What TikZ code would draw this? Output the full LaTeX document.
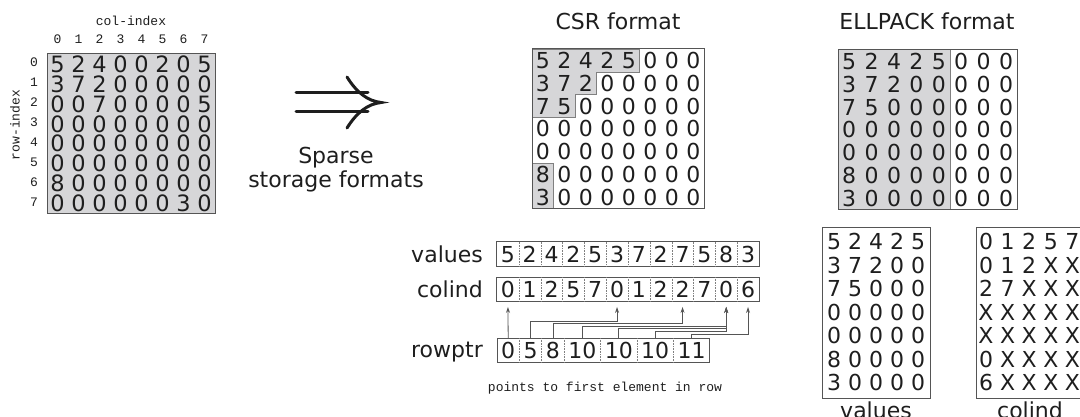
\documentclass[tikz,border=0pt]{standalone}
\usepackage{fontspec}
\setmainfont{DejaVu Sans}
\setmonofont{Liberation Mono}
\usetikzlibrary{positioning,calc,arrows.meta}

\definecolor{cellgray}{RGB}{214,214,216}
\definecolor{rulegray}{RGB}{85,85,85}
\definecolor{ink}{RGB}{30,30,30}

\tikzset{
  digit/.style={inner sep=0pt, text height=16pt, text depth=0pt, text=ink,
    font=\fontsize{22}{22}\selectfont},
  bigdigit/.style={digit, text height=16pt, font=\fontsize{22.5}{22.5}\selectfont},
  index/.style={inner sep=0pt, text=ink, font=\ttfamily\fontsize{13}{13}\selectfont},
  label/.style={inner sep=0pt, text=ink, font=\fontsize{22}{24}\selectfont},
  frame/.style={draw=rulegray, line width=1pt},
  stair/.style={draw=gray, line width=0.6pt},
  arrcell/.style={digit, minimum width=21.8pt, minimum height=24.5pt, inner xsep=4pt},
  sep/.style={draw=gray, densely dotted, line width=0.6pt},
  ptr/.style={draw=rulegray, line width=0.8pt, -{Stealth[length=6pt,width=4pt]}, shorten >=5pt},
}

\begin{document}
\begin{tikzpicture}[x=1pt, y=-1pt]
  \useasboundingbox (0,0) rectangle (1080,417);

  % dense matrix
  \fill[cellgray] (47,54) rectangle (215,214);
  \draw[frame] (47,54) rectangle (215,214);
  \foreach \row [count=\i from 0] in {{5,2,4,0,0,2,0,5},{3,7,2,0,0,0,0,0},{0,0,7,0,0,0,0,5},
      {0,0,0,0,0,0,0,0},{0,0,0,0,0,0,0,0},{0,0,0,0,0,0,0,0},{8,0,0,0,0,0,0,0},{0,0,0,0,0,0,3,0}}
    \foreach \v [count=\j from 0] in \row
      \node[bigdigit] (a-\i-\j) at ({57.5+21*\j},{64.2+19.95*\i}) {\v};

  % indices
  \node[index] (colidx) at (131,21) {col-index};
  \foreach \j in {0,...,7}
    \node[index] (colnum-\j) at ({57.5+21*\j},39) {\j};
  \foreach \i in {0,...,7}
    \node[index] (rownum-\i) at (34,{62.5+19.95*\i}) {\i};
  \node[index, rotate=90] (rowidx) at (15,125) {row-index};

  % big arrow
  \draw[ink, line width=3pt, line cap=round] (296,93) -- (368,93) (296,112) -- (368,112);
  \draw[ink, line width=3pt, line cap=round] (347,77) .. controls (357,93) and (368,101) .. (381,102.5)
    .. controls (368,104) and (357,112) .. (347,128);
  \node[label, align=center] (sparse) at (336,170) {Sparse\\storage formats};

  % CSR format
  \node[label, anchor=base] (csrtitle) at (618,30) {CSR format};
  \fill[cellgray] (532,49) -- ++(5*21.5,0) -- ++(0,22.86) -- ++(-2*21.5,0) -- ++(0,22.86)
    -- ++(-21.5,0) -- ++(0,22.86) -- (532,{49+3*22.86}) -- cycle;
  \draw[stair] (532,49) -- ++(5*21.5,0) -- ++(0,22.86) -- ++(-2*21.5,0) -- ++(0,22.86)
    -- ++(-21.5,0) -- ++(0,22.86) -- (532,{49+3*22.86});
  \fill[cellgray] (532,{49+5*22.86}) rectangle (553.5,209);
  \draw[stair] (532,{49+5*22.86}) -| (553.5,209);
  \draw[frame] (532,49) rectangle (704,209);
  \foreach \row [count=\i from 0] in {{5,2,4,2,5,0,0,0},{3,7,2,0,0,0,0,0},{7,5,0,0,0,0,0,0},
      {0,0,0,0,0,0,0,0},{0,0,0,0,0,0,0,0},{8,0,0,0,0,0,0,0},{3,0,0,0,0,0,0,0}}
    \foreach \v [count=\j from 0] in \row
      \node[digit] (c-\i-\j) at ({542.75+21.5*\j},{60.4+22.86*\i}) {\v};

  % ELLPACK format
  \node[label, anchor=base] (elltitle) at (927,30) {ELLPACK format};
  \fill[cellgray] (838,50) rectangle (950,210);
  \draw[stair] (950,50) -- (950,210);
  \draw[frame] (838,50) rectangle (1017,210);
  \foreach \row [count=\i from 0] in {{5,2,4,2,5,0,0,0},{3,7,2,0,0,0,0,0},{7,5,0,0,0,0,0,0},
      {0,0,0,0,0,0,0,0},{0,0,0,0,0,0,0,0},{8,0,0,0,0,0,0,0},{3,0,0,0,0,0,0,0}}
    \foreach \v [count=\j from 0] in \row
      \node[digit] (e-\i-\j) at ({849.2+22.4*\j},{61.4+22.86*\i}) {\v};

  % CSR arrays
  \node[label, anchor=base east] (vallabel) at (483,262) {values};
  \node[label, anchor=base east] (collabel) at (483,297) {colind};
  \node[label, anchor=base east] (rplabel) at (483,357) {rowptr};
  \foreach \v [count=\i from 0] in {5,2,4,2,5,3,7,2,7,5,8,3}
    \node[arrcell, inner xsep=2pt] (val-\i) at ({507.9+21.83*\i},254) {\v};
  \foreach \v [count=\i from 0] in {0,1,2,5,7,0,1,2,2,7,0,6}
    \node[arrcell, inner xsep=2pt] (ci-\i) at ({507.9+21.83*\i},289.5) {\v};
  \node[arrcell, anchor=west] (rp-0) at (497,350.5) {0};
  \foreach \v [count=\i from 1] in {5,8,10,10,10,11}{
    \pgfmathtruncatemacro\k{\i-1}
    \node[arrcell, right=0pt of rp-\k] (rp-\i) {\v};
  }
  \foreach \a in {val,ci}{
    \draw[frame] (\a-0.north west) rectangle (\a-11.south east);
    \foreach \i in {0,...,10}
      \draw[sep] (\a-\i.north east) -- (\a-\i.south east);
  }
  \draw[frame] (rp-0.north west) rectangle (rp-6.south east);
  \foreach \i in {0,...,5}
    \draw[sep] (rp-\i.north east) -- (rp-\i.south east);

  % row pointers
  \draw[ptr] (rp-0.north) -- (ci-0.south);
  \draw[ptr] (rp-1.north) -- ++(0,-17) -| (ci-5.south);
  \draw[ptr] (rp-2.north) -- ++(0,-14.4) -| (ci-8.south);
  \draw[ptr] (rp-3.north) -- ++(0,-11.8) -| (ci-10.south);
  \draw[ptr] (rp-4.north) -- ++(0,-9.2) -| (ci-10.south);
  \draw[ptr] (rp-5.north) -- ++(0,-6.6) -| (ci-10.south);
  \draw[ptr] (rp-6.north) -- ++(0,-4) -| (ci-11.south);
  \node[index, anchor=base] (rpnote) at (605,391) {points to first element in row};

  % ELLPACK arrays
  \draw[frame] (822,228) rectangle (930,398);
  \draw[frame] (976,228) rectangle (1084,398);
  \foreach \row [count=\i from 0] in {{5,2,4,2,5},{3,7,2,0,0},{7,5,0,0,0},{0,0,0,0,0},
      {0,0,0,0,0},{8,0,0,0,0},{3,0,0,0,0}}
    \foreach \v [count=\j from 0] in \row
      \node[digit] (ev-\i-\j) at ({834+21*\j},{242+23.4*\i}) {\v};
  \foreach \row [count=\i from 0] in {{0,1,2,5,7},{0,1,2,X,X},{2,7,X,X,X},{X,X,X,X,X},
      {X,X,X,X,X},{0,X,X,X,X},{6,X,X,X,X}}
    \foreach \v [count=\j from 0] in \row
      \node[digit] (ec-\i-\j) at ({986+21.6*\j},{242+23.4*\i}) {\v};
  \node[label, anchor=base] (evlabel) at (876,418) {values};
  \node[label, anchor=base] (eclabel) at (1030,418) {colind};

\end{tikzpicture}
\end{document}
